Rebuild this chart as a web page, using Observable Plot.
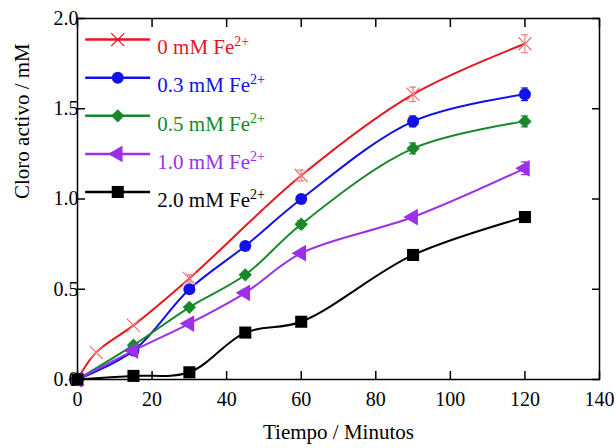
<!DOCTYPE html>
<html>
<head>
<meta charset="utf-8">
<script src="https://cdn.jsdelivr.net/npm/d3@7"></script>
<script src="https://cdn.jsdelivr.net/npm/@observablehq/plot@0.6"></script>
<style>
  html, body { margin: 0; padding: 0; background: #fff; }
  #chart { width: 616px; height: 448px; }
</style>
</head>
<body>
<div id="chart"></div>
<script>
// ---- data ----
const seriesNames = ["0 mM Fe", "0.3 mM Fe", "0.5 mM Fe", "1.0 mM Fe", "2.0 mM Fe"];
const seriesColors = ["#e8161c", "#1212e6", "#17892a", "#9b30e8", "#000000"];
const seriesSymbols = ["times", "circle", "diamond2", "triangle", "square"];

const time0 = [0, 5, 15, 30, 60, 90, 120];
const timeN = [0, 15, 30, 45, 60, 90, 120];

const v00 = [0, 0.15, 0.30, 0.56, 1.13, 1.58, 1.86];
const v03 = [0, 0.16, 0.50, 0.74, 1.00, 1.43, 1.58];
const v05 = [0, 0.19, 0.40, 0.58, 0.86, 1.28, 1.43];
const v10 = [0, 0.16, 0.31, 0.48, 0.70, 0.90, 1.17];
const v20 = [0, 0.02, 0.04, 0.26, 0.32, 0.69, 0.90];

const e00 = [0, 0, 0, 0.02, 0.03, 0.04, 0.05];
const e03 = [0, 0, 0, 0, 0.015, 0.03, 0.035];
const e05 = [0, 0, 0, 0, 0.02, 0.03, 0.03];
const e10 = [0, 0, 0, 0, 0.01, 0.015, 0.035];
const e20 = [0, 0, 0, 0, 0, 0, 0];

const xTicks = [0, 20, 40, 60, 80, 100, 120, 140];
const yTicks = [0, 0.5, 1.0, 1.5, 2.0];

// ---- build tables ----
const seriesValues = [v00, v03, v05, v10, v20];
const seriesErrors = [e00, e03, e05, e10, e20];
const seriesTimes = [time0, timeN, timeN, timeN, timeN];

const rows = [];
seriesNames.forEach((name, i) => {
  seriesTimes[i].forEach((t, j) => {
    rows.push({series: i, name, t, v: seriesValues[i][j], e: seriesErrors[i][j]});
  });
});
const errRows = rows.filter(d => d.e > 0);

// legend rows (data-space layout for the in-plot legend)
const legendTop = 1.883, legendStep = 0.211;
const legend = seriesNames.map((name, i) => ({series: i, name, y: legendTop - i * legendStep}));

const capHalf = 0.95;
const errColor = i => i === 0 ? "#ef7a7a" : seriesColors[i];
const symbolR = [6, 6, 6, 6.2, 6.8];

const marks = [];
// error bars
marks.push(Plot.ruleX(errRows, {x: "t", y1: d => d.v - d.e, y2: d => d.v + d.e, stroke: d => errColor(d.series), strokeWidth: 1.2}));
marks.push(Plot.ruleY(errRows, {y: d => d.v - d.e, x1: d => d.t - capHalf, x2: d => d.t + capHalf, stroke: d => errColor(d.series), strokeWidth: 1.2}));
marks.push(Plot.ruleY(errRows, {y: d => d.v + d.e, x1: d => d.t - capHalf, x2: d => d.t + capHalf, stroke: d => errColor(d.series), strokeWidth: 1.2}));

seriesNames.forEach((name, i) => {
  const data = rows.filter(d => d.series === i);
  marks.push(Plot.line(data, {x: "t", y: "v", stroke: seriesColors[i], strokeWidth: 2, curve: "catmull-rom"}));
});
seriesNames.forEach((name, i) => {
  const data = rows.filter(d => d.series === i);
  const isStroke = seriesSymbols[i] === "times";
  marks.push(Plot.dot(data, {
    x: "t", y: "v", symbol: () => seriesSymbols[i], r: symbolR[i],
    rotate: seriesSymbols[i] === "triangle" ? -90 : 0,
    fill: isStroke ? "none" : seriesColors[i],
    stroke: isStroke ? "#ef7a7a" : "none", strokeWidth: 1.3
  }));
});

// legend
legend.forEach((d, i) => {
  marks.push(Plot.ruleY([d], {y: "y", x1: 2.2, x2: 19.6, stroke: seriesColors[i], strokeWidth: 2.5}));
  const isStroke = seriesSymbols[i] === "times";
  marks.push(Plot.dot([d], {
    x: 10.8, y: "y", symbol: () => seriesSymbols[i], r: symbolR[i],
    rotate: seriesSymbols[i] === "triangle" ? -90 : 0,
    fill: isStroke ? "none" : seriesColors[i],
    stroke: isStroke ? seriesColors[i] : "none", strokeWidth: 1.3
  }));
});
marks.push(Plot.text(legend, {x: 21.4, y: "y", text: "name", textAnchor: "start", dy: 8,
  fill: d => seriesColors[d.series], fontSize: 21, className: "legend-text"}));

// axes & frame
marks.push(Plot.frame({stroke: "#000", strokeWidth: 1.5}));
marks.push(Plot.axisX({ticks: xTicks, anchor: "bottom", tickSize: -8, tickPadding: 20, label: null, fontSize: 20, strokeWidth: 1.5}));
marks.push(Plot.axisX({ticks: xTicks, anchor: "top", tickSize: -8, tickFormat: () => "", label: null, strokeWidth: 1.5}));
marks.push(Plot.axisY({ticks: yTicks, anchor: "left", tickSize: -8, tickPadding: 7, tickFormat: d3.format(".1f"), label: null, fontSize: 20, strokeWidth: 1.5}));
marks.push(Plot.axisY({ticks: yTicks, anchor: "right", tickSize: -8, tickFormat: () => "", label: null, strokeWidth: 1.5}));

marks.push(Plot.text(["Tiempo / Minutos"], {frameAnchor: "bottom", dy: 59, fontSize: 21, text: d => d}));
marks.push(Plot.text(["Cloro activo / mM"], {frameAnchor: "left", dx: -55, rotate: -90, fontSize: 21, text: d => d}));

const chart = Plot.plot({
  width: 616,
  height: 448,
  marginLeft: 77,
  marginRight: 17,
  marginTop: 18,
  marginBottom: 69,
  x: {domain: [0, 140]},
  y: {domain: [0, 2]},
  style: {fontFamily: "'Liberation Serif', 'Times New Roman', serif", fontSize: "20px", color: "#000", background: "#fff", overflow: "visible"},
  marks
});
document.getElementById("chart").appendChild(chart);

// superscript "2+" on legend labels
d3.select(chart).selectAll(".legend-text text").each(function() {
  const sel = d3.select(this);
  const txt = this.textContent;
  sel.text(null);
  sel.append("tspan").text(txt);
  sel.append("tspan").attr("dy", "-8").attr("font-size", "14px").text("2+");
});
</script>
</body>
</html>
